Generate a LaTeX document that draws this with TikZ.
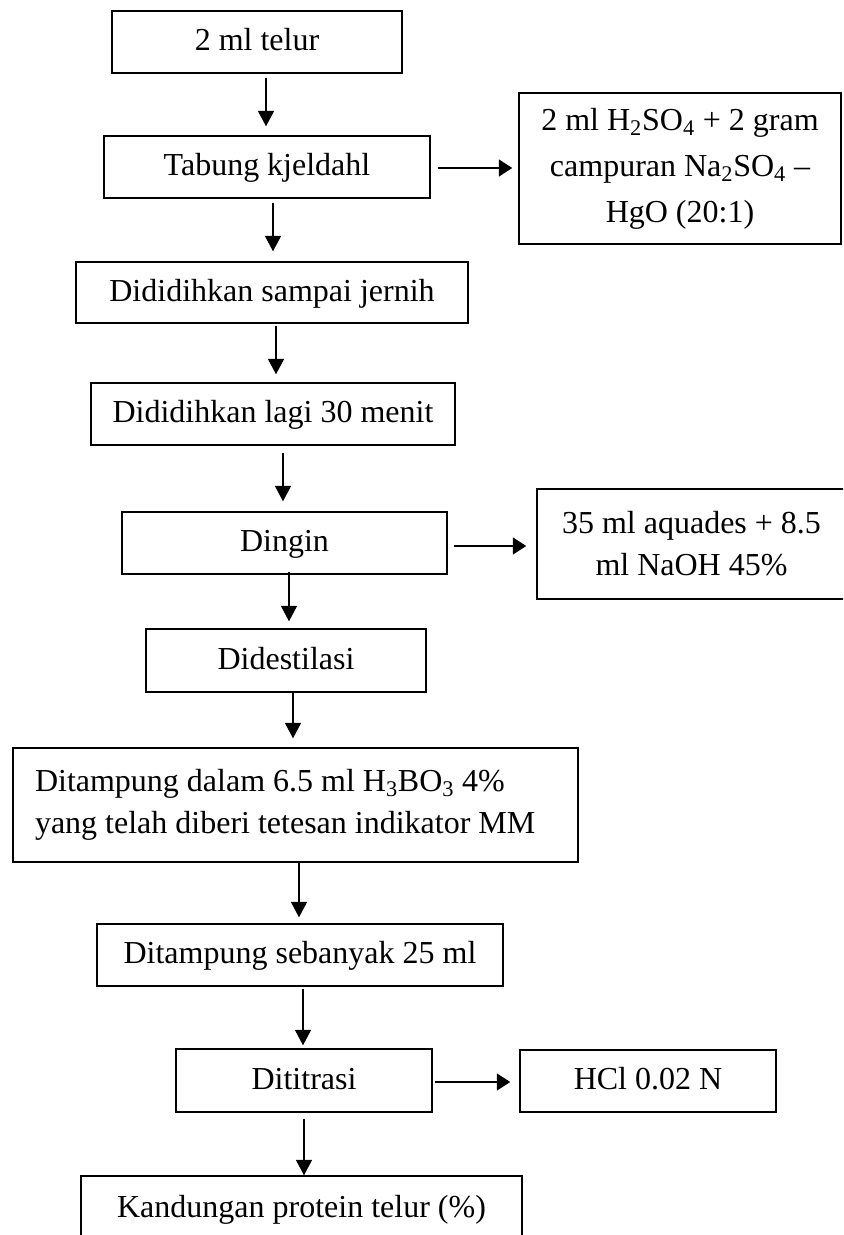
\documentclass[tikz,border=0pt]{standalone}
\usepackage{fontspec}
\setmainfont{Liberation Serif}
\usetikzlibrary{arrows.meta}
\begin{document}
\begin{tikzpicture}[x=0.75pt,y=-0.75pt,
  box/.style={draw,line width=1.1pt,rectangle,inner sep=0pt,
    font=\fontsize{24pt}{31.5pt}\selectfont,
    text height=18pt,text depth=5pt},
  varr/.style={line width=0.8pt,-{Triangle[length=11.5pt,width=12pt]}},
  harr/.style={line width=1.6pt,-{Triangle[length=10pt,width=12.5pt]}}]
\useasboundingbox (0,0) rectangle (843,1235);
\clip (0,0) rectangle (843,1235);
\node[box,minimum width=217.5pt,minimum height=46.5pt] (b1) at (257,42) {2 ml telur};
\node[box,minimum width=244.5pt,minimum height=46.5pt] (b2) at (267,167) {Tabung kjeldahl};
\node[box,minimum width=241.5pt,minimum height=113.25pt,align=center,
  text height=,text depth=,font=\fontsize{24pt}{34.5pt}\selectfont] (b3) at (680,168.5)
  {2 ml H\textsubscript{2}SO\textsubscript{4} + 2 gram\\campuran Na\textsubscript{2}SO\textsubscript{4} –\\HgO (20:1)};
\node[box,minimum width=294pt,minimum height=45.75pt] (b4) at (272,292.5) {Dididihkan sampai jernih};
\node[box,minimum width=273pt,minimum height=46.5pt] (b5) at (273,414) {Dididihkan lagi 30 menit};
\node[box,minimum width=243.75pt,minimum height=46.5pt] (b6) at (284.5,543) {Dingin};
\node[box,minimum width=231.75pt,minimum height=82.5pt,align=center,
  text height=,text depth=] (b7) at (691.5,544) {35 ml aquades + 8.5\\ml NaOH 45\%};
\node[box,minimum width=210pt,minimum height=47.25pt] (b8) at (286,660.5) {Didestilasi};
\node[box,minimum height=85.5pt,align=flush left,text width=390.75pt,inner xsep=16.5pt,
  text height=,text depth=] (b9) at (295.5,805)
  {Ditampung dalam 6.5 ml H\textsubscript{3}BO\textsubscript{3} 4\%\\yang telah diberi tetesan indikator MM};
\node[box,minimum width=304.5pt,minimum height=46.5pt] (b10) at (300,955) {Ditampung sebanyak 25 ml};
\node[box,minimum width=192pt,minimum height=47.25pt] (b11) at (304,1080.5) {Dititrasi};
\node[box,minimum width=192pt,minimum height=46.5pt] (b12) at (648,1081) {HCl 0.02 N};
\node[box,minimum width=330.75pt,minimum height=49.5pt] (b13) at (301.5,1209) {Kandungan protein telur (\%)};
% vertical arrows
\draw[varr] ([shift={(9,4)}]b1.south) -- ([shift={(-1,-9)}]b2.north);
\draw[varr] ([shift={(6,4)}]b2.south) -- ([shift={(1,-10)}]b4.north);
\draw[varr] ([shift={(4,2)}]b4.south) -- ([shift={(3,-8)}]b5.north);
\draw[varr] ([shift={(10,7)}]b5.south) -- ([shift={(-1.5,-10)}]b6.north);
\draw[varr] ([shift={(4.5,-3)}]b6.south) -- ([shift={(3,-7)}]b8.north);
\draw[varr] ([shift={(7,0)}]b8.south) -- ([shift={(-2.5,-9)}]b9.north);
\draw[varr] ([shift={(3.5,0)}]b9.south) -- ([shift={(-1,-6)}]b10.north);
\draw[varr] ([shift={(3,2)}]b10.south) -- ([shift={(-1,-3)}]b11.north);
\draw[varr] ([shift={(0,6)}]b11.south) -- ([shift={(2.5,0)}]b13.north);
% horizontal arrows
\draw[harr] ([shift={(7,1)}]b2.east) -- ([shift={(-6,-0.5)}]b3.west);
\draw[harr] ([shift={(6,3)}]b6.east) -- ([shift={(-10,2)}]b7.west);
\draw[harr] ([shift={(2,1.5)}]b11.east) -- ([shift={(-9,1)}]b12.west);
\end{tikzpicture}
\end{document}
